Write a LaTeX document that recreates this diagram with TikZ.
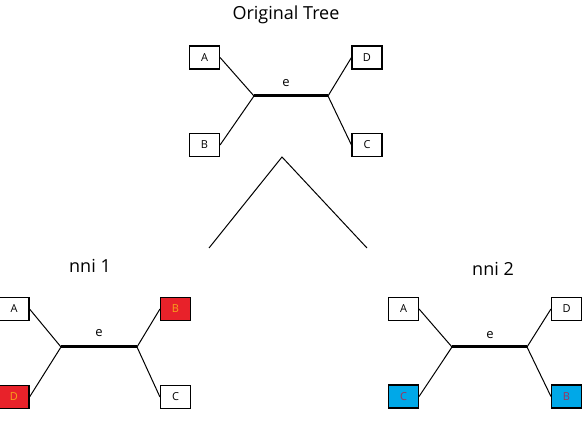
\documentclass[tikz,border=0pt]{standalone}
\usepackage{fontspec}
\setmainfont{Open Sans}
\definecolor{redbox}{HTML}{E8222A}
\definecolor{bluebox}{HTML}{00A8E8}
\definecolor{orangetxt}{HTML}{F7A21B}
\definecolor{purpletxt}{HTML}{A0325A}
\begin{document}
\begin{tikzpicture}[x=1pt,y=1pt,
  leaf/.style={draw=black,line width=1.1pt,minimum width=30pt,minimum height=23pt,inner sep=0pt,font=\fontsize{11}{12}\selectfont,fill=white},
  redleaf/.style={leaf,fill=redbox,text=orangetxt},
  blueleaf/.style={leaf,fill=bluebox,text=purpletxt},
  branch/.style={line width=1pt},
  inner/.style={line width=3pt},
  ttl/.style={font=\fontsize{18}{20}\selectfont},
  elab/.style={font=\fontsize{13}{15}\selectfont}]
\useasboundingbox (0,0) rectangle (588,446);
% Original tree
\node[ttl] (t0) at (286,431) {Original Tree};
\node[leaf] (a0) at (204.5,388.5) {A};
\node[leaf] (d0) at (367,388.5) {D};
\node[leaf] (b0) at (204.5,301) {B};
\node[leaf] (c0) at (367,301) {C};
\coordinate (l0) at (254,350);
\coordinate (r0) at (328,350);
\draw[inner] (l0) -- (r0);
\node[elab] (e0) at (286,363) {e};
\draw[branch] (a0.east) -- (l0);
\draw[branch] (b0.east) -- (l0);
\draw[branch] (d0.west) -- (r0);
\draw[branch] (c0.west) -- (r0);
% V
\coordinate (vtop) at (282,289);
\coordinate (vl) at (209,198);
\coordinate (vr) at (367,198);
\draw[branch] (vl) -- (vtop) -- (vr);
% nni 1
\node[ttl] (t1) at (90,180) {nni 1};
\node[leaf] (a1) at (14,137) {A};
\node[redleaf] (b1) at (175.5,137) {B};
\node[redleaf] (d1) at (14,49) {D};
\node[leaf] (c1) at (175.5,49) {C};
\coordinate (l1) at (61,99);
\coordinate (r1) at (137,99);
\draw[inner] (l1) -- (r1);
\node[elab] (e1) at (99,113) {e};
\draw[branch] (a1.east) -- (l1);
\draw[branch] (d1.east) -- (l1);
\draw[branch] (b1.west) -- (r1);
\draw[branch] (c1.west) -- (r1);
% nni 2
\node[ttl] (t2) at (493,177) {nni 2};
\node[leaf] (a2) at (403.5,137) {A};
\node[leaf] (d2) at (566.5,137) {D};
\node[blueleaf] (c2) at (403.5,49.5) {C};
\node[blueleaf] (b2) at (566.5,49.5) {B};
\coordinate (l2) at (452,99);
\coordinate (r2) at (527,99);
\draw[inner] (l2) -- (r2);
\node[elab] (e2) at (490,111) {e};
\draw[branch] (a2.east) -- (l2);
\draw[branch] (c2.east) -- (l2);
\draw[branch] (d2.west) -- (r2);
\draw[branch] (b2.west) -- (r2);
\end{tikzpicture}
\end{document}
